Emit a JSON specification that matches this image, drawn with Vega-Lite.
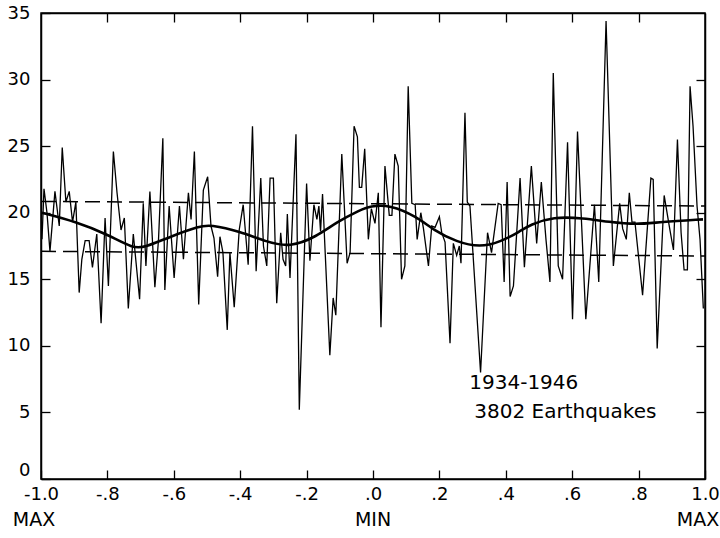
{
  "$schema": "https://vega.github.io/schema/vega-lite/v6.json",
  "width": 664,
  "height": 466,
  "autosize": "none",
  "padding": {"left": 41, "top": 13, "right": 15, "bottom": 59},
  "background": "white",
  "config": {
    "view": {"stroke": "black", "strokeWidth": 1.5},
    "axis": {
      "grid": false,
      "domainColor": "black",
      "domainWidth": 1.5,
      "tickColor": "black",
      "tickWidth": 1.3,
      "labelColor": "black",
      "labelFont": "DejaVu Sans",
      "labelFontSize": 18,
      "labelFlush": false,
      "labelOverlap": false,
      "title": null
    }
  },
  "datasets": {
    "jag": [
      {"x": -0.997, "y": 18.0}, {"x": -0.991, "y": 21.8}, {"x": -0.982, "y": 20.0}, {"x": -0.973, "y": 17.1},
      {"x": -0.958, "y": 21.6}, {"x": -0.945, "y": 19.0}, {"x": -0.936, "y": 24.9}, {"x": -0.925, "y": 20.8},
      {"x": -0.915, "y": 21.6}, {"x": -0.905, "y": 19.3}, {"x": -0.895, "y": 20.8}, {"x": -0.885, "y": 14.0},
      {"x": -0.877, "y": 16.5}, {"x": -0.867, "y": 17.9}, {"x": -0.855, "y": 17.9}, {"x": -0.845, "y": 15.9},
      {"x": -0.832, "y": 18.4}, {"x": -0.819, "y": 11.7}, {"x": -0.807, "y": 19.6}, {"x": -0.797, "y": 14.5},
      {"x": -0.782, "y": 24.6}, {"x": -0.771, "y": 21.5}, {"x": -0.759, "y": 18.7}, {"x": -0.749, "y": 19.6},
      {"x": -0.737, "y": 12.8}, {"x": -0.722, "y": 18.4}, {"x": -0.703, "y": 13.5}, {"x": -0.692, "y": 20.7},
      {"x": -0.684, "y": 16.0}, {"x": -0.672, "y": 21.6}, {"x": -0.657, "y": 14.4}, {"x": -0.646, "y": 18.0},
      {"x": -0.633, "y": 25.6}, {"x": -0.627, "y": 14.2}, {"x": -0.614, "y": 20.5}, {"x": -0.599, "y": 15.1},
      {"x": -0.583, "y": 20.5}, {"x": -0.571, "y": 16.5}, {"x": -0.556, "y": 21.5}, {"x": -0.548, "y": 19.5},
      {"x": -0.538, "y": 24.6}, {"x": -0.525, "y": 13.1}, {"x": -0.511, "y": 21.7}, {"x": -0.498, "y": 22.7},
      {"x": -0.488, "y": 19.0}, {"x": -0.479, "y": 18.1}, {"x": -0.468, "y": 15.2}, {"x": -0.461, "y": 18.2},
      {"x": -0.452, "y": 17.0}, {"x": -0.439, "y": 11.2}, {"x": -0.431, "y": 17.0}, {"x": -0.418, "y": 12.9},
      {"x": -0.403, "y": 18.7}, {"x": -0.391, "y": 20.6}, {"x": -0.376, "y": 16.1}, {"x": -0.363, "y": 26.5},
      {"x": -0.352, "y": 15.6}, {"x": -0.338, "y": 22.6}, {"x": -0.330, "y": 17.5}, {"x": -0.320, "y": 16.0},
      {"x": -0.310, "y": 22.6}, {"x": -0.300, "y": 22.6}, {"x": -0.290, "y": 13.2}, {"x": -0.278, "y": 18.5},
      {"x": -0.271, "y": 16.5}, {"x": -0.263, "y": 16.0}, {"x": -0.258, "y": 19.9}, {"x": -0.250, "y": 15.1},
      {"x": -0.232, "y": 25.9}, {"x": -0.222, "y": 5.2}, {"x": -0.200, "y": 22.2}, {"x": -0.190, "y": 16.4},
      {"x": -0.178, "y": 20.6}, {"x": -0.169, "y": 19.5}, {"x": -0.163, "y": 20.5}, {"x": -0.158, "y": 18.6},
      {"x": -0.152, "y": 21.4}, {"x": -0.130, "y": 9.3}, {"x": -0.120, "y": 13.6}, {"x": -0.112, "y": 12.3},
      {"x": -0.094, "y": 24.4}, {"x": -0.078, "y": 16.2}, {"x": -0.069, "y": 17.0}, {"x": -0.057, "y": 26.5},
      {"x": -0.047, "y": 25.7}, {"x": -0.041, "y": 21.9}, {"x": -0.034, "y": 21.9}, {"x": -0.025, "y": 24.8},
      {"x": -0.014, "y": 18.0}, {"x": -0.005, "y": 20.3}, {"x": 0.006, "y": 19.2}, {"x": 0.016, "y": 21.5},
      {"x": 0.024, "y": 11.4}, {"x": 0.036, "y": 23.5}, {"x": 0.049, "y": 19.8}, {"x": 0.057, "y": 19.8},
      {"x": 0.066, "y": 24.4}, {"x": 0.076, "y": 23.5}, {"x": 0.086, "y": 15.0}, {"x": 0.096, "y": 16.0},
      {"x": 0.106, "y": 29.5}, {"x": 0.117, "y": 20.7}, {"x": 0.127, "y": 20.6}, {"x": 0.133, "y": 18.0},
      {"x": 0.144, "y": 20.0}, {"x": 0.152, "y": 18.8}, {"x": 0.167, "y": 16.0}, {"x": 0.177, "y": 19.0},
      {"x": 0.187, "y": 18.9}, {"x": 0.200, "y": 19.7}, {"x": 0.207, "y": 18.5}, {"x": 0.217, "y": 17.8},
      {"x": 0.232, "y": 10.2}, {"x": 0.242, "y": 17.7}, {"x": 0.252, "y": 16.8}, {"x": 0.260, "y": 17.5},
      {"x": 0.265, "y": 16.2}, {"x": 0.277, "y": 27.5}, {"x": 0.284, "y": 20.8}, {"x": 0.292, "y": 20.5},
      {"x": 0.324, "y": 8.0}, {"x": 0.345, "y": 18.5}, {"x": 0.357, "y": 17.0}, {"x": 0.377, "y": 20.7},
      {"x": 0.386, "y": 20.6}, {"x": 0.395, "y": 14.8}, {"x": 0.404, "y": 22.3}, {"x": 0.413, "y": 13.7},
      {"x": 0.423, "y": 14.5}, {"x": 0.443, "y": 22.6}, {"x": 0.456, "y": 15.9}, {"x": 0.477, "y": 23.5},
      {"x": 0.493, "y": 17.7}, {"x": 0.507, "y": 22.3}, {"x": 0.521, "y": 18.0}, {"x": 0.533, "y": 14.8},
      {"x": 0.543, "y": 30.5}, {"x": 0.558, "y": 16.0}, {"x": 0.571, "y": 15.0}, {"x": 0.586, "y": 25.3},
      {"x": 0.601, "y": 12.0}, {"x": 0.616, "y": 26.1}, {"x": 0.641, "y": 12.0}, {"x": 0.667, "y": 20.6},
      {"x": 0.680, "y": 14.8}, {"x": 0.702, "y": 34.4}, {"x": 0.724, "y": 16.0}, {"x": 0.743, "y": 20.7},
      {"x": 0.752, "y": 18.8}, {"x": 0.763, "y": 18.0}, {"x": 0.772, "y": 21.5}, {"x": 0.780, "y": 19.3},
      {"x": 0.789, "y": 19.3}, {"x": 0.812, "y": 13.8}, {"x": 0.837, "y": 22.6}, {"x": 0.844, "y": 22.5},
      {"x": 0.856, "y": 9.8}, {"x": 0.877, "y": 21.3}, {"x": 0.893, "y": 18.9}, {"x": 0.905, "y": 17.2},
      {"x": 0.917, "y": 25.5}, {"x": 0.928, "y": 18.5}, {"x": 0.937, "y": 15.7}, {"x": 0.947, "y": 15.7},
      {"x": 0.955, "y": 29.5}, {"x": 0.964, "y": 26.5}, {"x": 0.976, "y": 20.5}, {"x": 0.985, "y": 18.0},
      {"x": 0.995, "y": 12.8}
    ],
    "smooth": [
      {"x": -0.997, "y": 20.0}, {"x": -0.892, "y": 19.3}, {"x": -0.802, "y": 18.4}, {"x": -0.722, "y": 17.3},
      {"x": -0.687, "y": 17.4}, {"x": -0.611, "y": 18.2}, {"x": -0.521, "y": 19.0}, {"x": -0.491, "y": 19.1},
      {"x": -0.401, "y": 18.6}, {"x": -0.320, "y": 17.8}, {"x": -0.250, "y": 17.4}, {"x": -0.170, "y": 18.2},
      {"x": -0.109, "y": 19.3}, {"x": -0.039, "y": 20.2}, {"x": -0.009, "y": 20.5}, {"x": 0.051, "y": 20.6},
      {"x": 0.132, "y": 19.7}, {"x": 0.182, "y": 18.7}, {"x": 0.252, "y": 17.8}, {"x": 0.322, "y": 17.4},
      {"x": 0.383, "y": 17.8}, {"x": 0.443, "y": 18.6}, {"x": 0.473, "y": 19.1}, {"x": 0.543, "y": 19.7},
      {"x": 0.633, "y": 19.6}, {"x": 0.711, "y": 19.3}, {"x": 0.794, "y": 19.1}, {"x": 0.864, "y": 19.3},
      {"x": 0.994, "y": 19.5}
    ],
    "dash": [
      {"series": "upper", "x": -1.0, "y": 20.85}, {"series": "upper", "x": 1.0, "y": 20.5},
      {"series": "lower", "x": -1.0, "y": 17.1}, {"series": "lower", "x": 1.0, "y": 16.75}
    ],
    "notes": [
      {"x": 0.29, "y": 7.2, "text": "1934-1946"},
      {"x": 0.305, "y": 5.0, "text": "3802 Earthquakes"}
    ],
    "ends": [
      {"x": -1.0, "y": -3.1, "text": "MAX"},
      {"x": 0.0, "y": -3.1, "text": "MIN"},
      {"x": 1.0, "y": -3.1, "text": "MAX"}
    ]
  },
  "resolve": {"axis": {"x": "independent", "y": "independent"}},
  "layer": [
    {
      "data": {"name": "jag"},
      "mark": {"type": "line", "color": "black", "strokeWidth": 1.3, "clip": false},
      "encoding": {
        "x": {
          "field": "x", "type": "quantitative",
          "scale": {"domain": [-1, 1], "nice": false, "zero": false},
          "axis": {
            "orient": "bottom",
            "values": [-1, -0.8, -0.6, -0.4, -0.2, 0, 0.2, 0.4, 0.6, 0.8, 1],
            "tickSize": -9,
            "labelPadding": 15,
            "labelExpr": "datum.value <= -0.999 ? '-1.0' : datum.value >= 0.999 ? '1.0' : (datum.value < -0.001 ? '-' : '') + '.' + toString(round(abs(datum.value) * 10))"
          }
        },
        "y": {
          "field": "y", "type": "quantitative",
          "scale": {"domain": [0, 35], "nice": false, "zero": false},
          "axis": {
            "orient": "left",
            "values": [0, 5, 10, 15, 20, 25, 30, 35],
            "tickSize": -9,
            "labelPadding": 20,
            "labelBaseline": {"condition": {"test": "datum.value == 0", "value": "bottom"}, "value": "middle"}
          }
        }
      }
    },
    {
      "data": {"name": "smooth"},
      "mark": {"type": "line", "color": "black", "strokeWidth": 2.6, "interpolate": "basis"},
      "encoding": {
        "x": {
          "field": "x", "type": "quantitative",
          "axis": {"orient": "top", "values": [-0.8, -0.6, -0.4, -0.2, 0, 0.2, 0.4, 0.6, 0.8], "tickSize": -9, "labels": false, "domain": true}
        },
        "y": {
          "field": "y", "type": "quantitative",
          "axis": {"orient": "right", "values": [5, 10, 15, 20, 25, 30], "tickSize": -9, "labels": false, "domain": true}
        }
      }
    },
    {
      "data": {"name": "dash"},
      "mark": {"type": "line", "color": "black", "strokeWidth": 1.5, "strokeDash": [15, 7]},
      "encoding": {
        "x": {"field": "x", "type": "quantitative", "axis": null},
        "y": {"field": "y", "type": "quantitative", "axis": null},
        "detail": {"field": "series"}
      }
    },
    {
      "data": {"name": "notes"},
      "mark": {"type": "text", "align": "left", "baseline": "middle", "font": "DejaVu Sans", "fontSize": 20, "color": "black"},
      "encoding": {
        "x": {"field": "x", "type": "quantitative", "axis": null},
        "y": {"field": "y", "type": "quantitative", "axis": null},
        "text": {"field": "text"}
      }
    },
    {
      "data": {"name": "ends"},
      "transform": [{"filter": "datum.text == 'MAX'"}],
      "mark": {"type": "text", "align": "center", "baseline": "middle", "font": "DejaVu Sans", "fontSize": 19, "color": "black", "dx": -7},
      "encoding": {
        "x": {"field": "x", "type": "quantitative", "axis": null},
        "y": {"field": "y", "type": "quantitative", "axis": null},
        "text": {"field": "text"}
      }
    },
    {
      "data": {"name": "ends"},
      "transform": [{"filter": "datum.text == 'MIN'"}],
      "mark": {"type": "text", "align": "center", "baseline": "middle", "font": "DejaVu Sans", "fontSize": 19, "color": "black"},
      "encoding": {
        "x": {"field": "x", "type": "quantitative", "axis": null},
        "y": {"field": "y", "type": "quantitative", "axis": null},
        "text": {"field": "text"}
      }
    }
  ]
}
